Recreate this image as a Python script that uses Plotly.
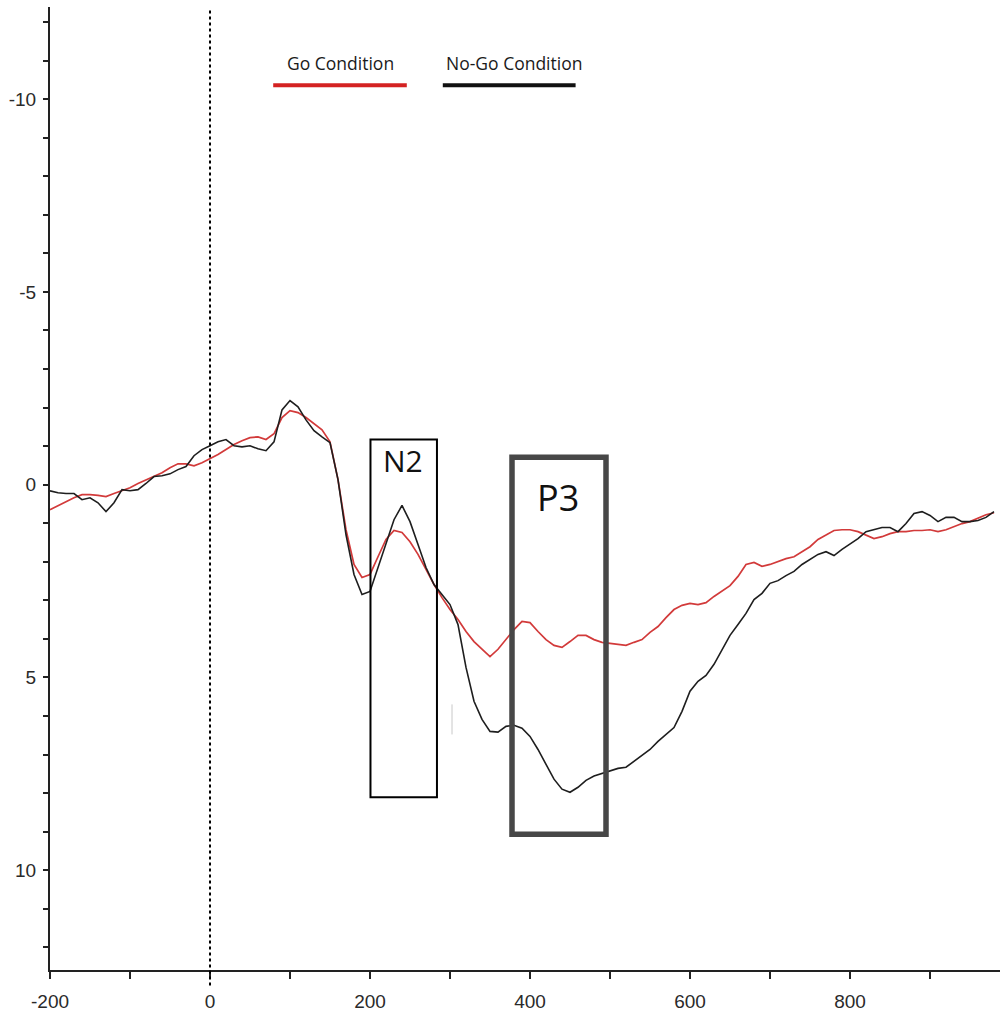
import plotly.graph_objects as go

# Time axis (ms), sampled every 10 ms
time_ms = list(range(-200, 990, 10))

go_condition = [
    0.65, 0.54, 0.44, 0.34, 0.26, 0.26, 0.28, 0.31, 0.23, 0.16,
    0.08, -0.03, -0.13, -0.23, -0.31, -0.44, -0.54, -0.54, -0.49, -0.57,
    -0.67, -0.78, -0.91, -1.04, -1.14, -1.22, -1.24, -1.17, -1.32, -1.74,
    -1.92, -1.87, -1.74, -1.58, -1.42, -1.11, -0.13, 1.17, 2.07, 2.41,
    2.33, 1.87, 1.42, 1.19, 1.24, 1.48, 1.81, 2.20, 2.59, 2.93,
    3.24, 3.50, 3.81, 4.07, 4.27, 4.46, 4.27, 4.02, 3.76, 3.55,
    3.58, 3.81, 4.02, 4.17, 4.22, 4.07, 3.91, 3.91, 4.02, 4.09,
    4.12, 4.15, 4.17, 4.09, 4.02, 3.83, 3.68, 3.45, 3.24, 3.13,
    3.08, 3.11, 3.06, 2.90, 2.75, 2.62, 2.38, 2.07, 2.02, 2.12,
    2.07, 1.99, 1.92, 1.87, 1.74, 1.61, 1.42, 1.30, 1.19, 1.17,
    1.17, 1.22, 1.30, 1.40, 1.35, 1.27, 1.22, 1.22, 1.19, 1.19,
    1.17, 1.22, 1.17, 1.09, 1.01, 0.96, 0.88, 0.78, 0.73,
]

nogo_condition = [
    0.16, 0.21, 0.23, 0.23, 0.39, 0.34, 0.47, 0.70, 0.47, 0.13,
    0.16, 0.13, -0.03, -0.21, -0.23, -0.28, -0.39, -0.47, -0.75, -0.91,
    -1.01, -1.11, -1.17, -1.01, -0.98, -1.01, -0.93, -0.88, -1.11, -1.94,
    -2.18, -2.02, -1.68, -1.40, -1.24, -1.09, -0.13, 1.30, 2.33, 2.85,
    2.77, 2.15, 1.50, 0.91, 0.54, 0.96, 1.55, 2.15, 2.59, 2.85,
    3.11, 3.63, 4.74, 5.62, 6.09, 6.40, 6.42, 6.27, 6.24, 6.32,
    6.53, 6.87, 7.25, 7.64, 7.90, 7.98, 7.85, 7.67, 7.56, 7.49,
    7.41, 7.36, 7.33, 7.18, 7.02, 6.87, 6.66, 6.48, 6.30, 5.88,
    5.36, 5.10, 4.95, 4.66, 4.30, 3.91, 3.63, 3.34, 2.98, 2.82,
    2.56, 2.49, 2.36, 2.25, 2.07, 1.94, 1.81, 1.74, 1.84, 1.68,
    1.55, 1.40, 1.22, 1.17, 1.11, 1.11, 1.22, 1.01, 0.75, 0.70,
    0.80, 0.96, 0.85, 0.85, 0.96, 0.96, 0.93, 0.85, 0.70,
]

series_names = ["Go Condition", "No-Go Condition"]
x_tick_vals = [-200, 0, 200, 400, 600, 800]
x_tick_text = ["-200", "0", "200", "400", "600", "800"]
y_tick_vals = [-10, -5, 0, 5, 10]
y_tick_text = ["-10", "-5", "0", "5", "10"]
window_labels = ["N2", "P3"]

RED = "#d23a3a"
BLACK = "#1e1e1e"

fig = go.Figure()
fig.add_trace(go.Scatter(x=time_ms, y=go_condition, mode="lines", name=series_names[0],
                         line=dict(color=RED, width=1.7), showlegend=False))
fig.add_trace(go.Scatter(x=time_ms, y=nogo_condition, mode="lines", name=series_names[1],
                         line=dict(color=BLACK, width=1.6), showlegend=False))

# Stimulus onset dotted line
fig.add_shape(type="line", xref="x", yref="paper", x0=0, x1=0, y0=-0.016, y1=0.997,
              line=dict(color="black", width=2, dash="dot"))

# N2 window
fig.add_shape(type="rect", xref="x", yref="y", x0=200.6, x1=283.7, y0=-1.17, y1=8.11,
              line=dict(color="black", width=2), fillcolor="rgba(0,0,0,0)")
fig.add_annotation(x=241, y=-0.63, xref="x", yref="y", text=window_labels[0], showarrow=False,
                   font=dict(family="Open Sans", size=30, color="#111"))

# P3 window
fig.add_shape(type="rect", xref="x", yref="y", x0=377.5, x1=495, y0=-0.71, y1=9.07,
              line=dict(color="#474747", width=5.5), fillcolor="rgba(0,0,0,0)")
fig.add_annotation(x=435, y=0.34, xref="x", yref="y", text=window_labels[1], showarrow=False,
                   font=dict(family="Open Sans", size=36, color="#111"))

# small artifact mark
fig.add_shape(type="line", xref="x", yref="y", x0=302.5, x1=302.5, y0=5.7, y1=6.48,
              line=dict(color="#c8c8c8", width=1))

# Custom legend
fig.add_shape(type="line", xref="x", yref="y", x0=79, x1=246, y0=-10.36, y1=-10.36,
              line=dict(color="#d42222", width=4))
fig.add_shape(type="line", xref="x", yref="y", x0=291, x1=457, y0=-10.36, y1=-10.36,
              line=dict(color="#111", width=4))
fig.add_annotation(x=163, y=-10.93, xref="x", yref="y", text=series_names[0], showarrow=False,
                   font=dict(family="Open Sans", size=17.5, color="#1a1a1a"))
fig.add_annotation(x=380, y=-10.93, xref="x", yref="y", text=series_names[1], showarrow=False,
                   font=dict(family="Open Sans", size=17.5, color="#1a1a1a"))

axis_font = dict(family="Liberation Sans, Arial", size=19, color="#2a2a2a")

fig.update_layout(
    width=1000, height=1011,
    margin=dict(l=50, r=0, t=7, b=41),
    paper_bgcolor="white", plot_bgcolor="white",
    xaxis=dict(range=[-200, 987.5], tickmode="array", tickvals=x_tick_vals, ticktext=x_tick_text,
               showgrid=False, zeroline=False, showline=True, linecolor="#222", linewidth=2,
               ticks="outside", ticklen=7, tickwidth=1.5, tickcolor="#222",
               tickfont=axis_font, ticklabelstandoff=6,
               minor=dict(dtick=100, tick0=0, ticks="outside", ticklen=7, tickwidth=1.5,
                          tickcolor="#222", showgrid=False)),
    yaxis=dict(range=[12.59, -12.39], tickmode="array", tickvals=y_tick_vals, ticktext=y_tick_text,
               showgrid=False, zeroline=False, showline=True, linecolor="#222", linewidth=2,
               ticks="outside", ticklen=5, tickwidth=1.5, tickcolor="#222",
               tickfont=axis_font, ticklabelstandoff=3,
               minor=dict(dtick=1, tick0=0, ticks="outside", ticklen=5, tickwidth=1.5,
                          tickcolor="#222", showgrid=False)),
)

fig.write_html("out.html", config={"displayModeBar": False},
               post_script="document.body.style.margin='0';document.body.style.overflow='hidden';")
